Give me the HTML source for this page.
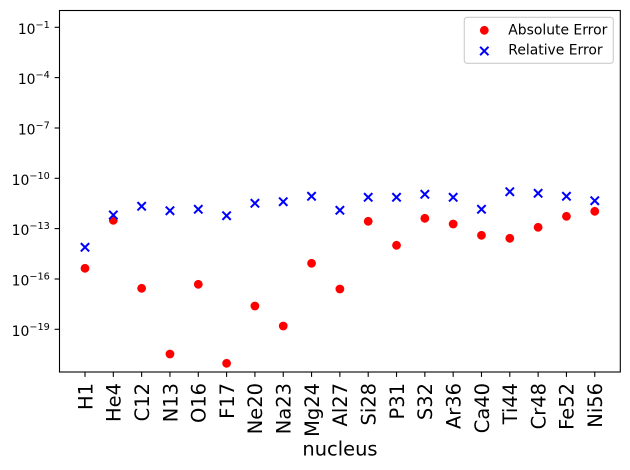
<!DOCTYPE html>
<html><head><meta charset="utf-8"><style>
html,body{margin:0;padding:0;background:#fff;}
svg{display:block;font-family:"DejaVu Sans","Liberation Sans",sans-serif;}
</style></head><body>
<svg width="630" height="470" viewBox="0 0 630 470" xmlns="http://www.w3.org/2000/svg">
<rect width="630" height="470" fill="#fff"/>
<!-- y ticks -->
<g stroke="#000" stroke-width="1.1">
<line x1="54.6" y1="27.3" x2="59.5" y2="27.3"/>
<line x1="54.6" y1="77.6" x2="59.5" y2="77.6"/>
<line x1="54.6" y1="128" x2="59.5" y2="128"/>
<line x1="54.6" y1="178.3" x2="59.5" y2="178.3"/>
<line x1="54.6" y1="228.6" x2="59.5" y2="228.6"/>
<line x1="54.6" y1="279" x2="59.5" y2="279"/>
<line x1="54.6" y1="329.3" x2="59.5" y2="329.3"/>
</g>
<g font-size="13.9" fill="#000" text-anchor="end">
<text x="49.8" y="33.8">10<tspan font-size="9.7" dy="-6">−1</tspan></text>
<text x="49.8" y="84.1">10<tspan font-size="9.7" dy="-6">−4</tspan></text>
<text x="49.8" y="134.5">10<tspan font-size="9.7" dy="-6">−7</tspan></text>
<text x="49.8" y="184.8">10<tspan font-size="9.7" dy="-6">−10</tspan></text>
<text x="49.8" y="235.1">10<tspan font-size="9.7" dy="-6">−13</tspan></text>
<text x="49.8" y="285.5">10<tspan font-size="9.7" dy="-6">−16</tspan></text>
<text x="49.8" y="335.8">10<tspan font-size="9.7" dy="-6">−19</tspan></text>
</g>
<!-- x ticks -->
<g stroke="#000" stroke-width="1.1">
<line x1="85" y1="372" x2="85" y2="376.9"/>
<line x1="113.32" y1="372" x2="113.32" y2="376.9"/>
<line x1="141.64" y1="372" x2="141.64" y2="376.9"/>
<line x1="169.96" y1="372" x2="169.96" y2="376.9"/>
<line x1="198.28" y1="372" x2="198.28" y2="376.9"/>
<line x1="226.6" y1="372" x2="226.6" y2="376.9"/>
<line x1="254.92" y1="372" x2="254.92" y2="376.9"/>
<line x1="283.24" y1="372" x2="283.24" y2="376.9"/>
<line x1="311.56" y1="372" x2="311.56" y2="376.9"/>
<line x1="339.88" y1="372" x2="339.88" y2="376.9"/>
<line x1="368.2" y1="372" x2="368.2" y2="376.9"/>
<line x1="396.52" y1="372" x2="396.52" y2="376.9"/>
<line x1="424.84" y1="372" x2="424.84" y2="376.9"/>
<line x1="453.16" y1="372" x2="453.16" y2="376.9"/>
<line x1="481.48" y1="372" x2="481.48" y2="376.9"/>
<line x1="509.8" y1="372" x2="509.8" y2="376.9"/>
<line x1="538.12" y1="372" x2="538.12" y2="376.9"/>
<line x1="566.44" y1="372" x2="566.44" y2="376.9"/>
<line x1="594.76" y1="372" x2="594.76" y2="376.9"/>
</g>
<g font-size="19.44" fill="#000" text-anchor="end">
<text transform="translate(92.3,383) rotate(-90)">H1</text>
<text transform="translate(120.62,383) rotate(-90)">He4</text>
<text transform="translate(148.94,383) rotate(-90)">C12</text>
<text transform="translate(177.26,383) rotate(-90)">N13</text>
<text transform="translate(205.58,383) rotate(-90)">O16</text>
<text transform="translate(233.9,383) rotate(-90)">F17</text>
<text transform="translate(262.22,383) rotate(-90)">Ne20</text>
<text transform="translate(290.54,383) rotate(-90)">Na23</text>
<text transform="translate(318.86,383) rotate(-90)">Mg24</text>
<text transform="translate(347.18,383) rotate(-90)">Al27</text>
<text transform="translate(375.5,383) rotate(-90)">Si28</text>
<text transform="translate(403.82,383) rotate(-90)">P31</text>
<text transform="translate(432.14,383) rotate(-90)">S32</text>
<text transform="translate(460.46,383) rotate(-90)">Ar36</text>
<text transform="translate(488.78,383) rotate(-90)">Ca40</text>
<text transform="translate(517.1,383) rotate(-90)">Ti44</text>
<text transform="translate(545.42,383) rotate(-90)">Cr48</text>
<text transform="translate(573.74,383) rotate(-90)">Fe52</text>
<text transform="translate(602.06,383) rotate(-90)">Ni56</text>
</g>
<text x="340" y="455.5" font-size="19.44" text-anchor="middle" fill="#000">nucleus</text>
<!-- Absolute Error dots -->
<g fill="#ff0000">
<circle cx="85" cy="268.3" r="4.4"/>
<circle cx="113.32" cy="220.3" r="4.4"/>
<circle cx="141.64" cy="288.3" r="4.4"/>
<circle cx="169.96" cy="354" r="4.4"/>
<circle cx="198.28" cy="284.3" r="4.4"/>
<circle cx="226.6" cy="363.3" r="4.4"/>
<circle cx="254.92" cy="306" r="4.4"/>
<circle cx="283.24" cy="326" r="4.4"/>
<circle cx="311.56" cy="263.3" r="4.4"/>
<circle cx="339.88" cy="289" r="4.4"/>
<circle cx="368.2" cy="221.3" r="4.4"/>
<circle cx="396.52" cy="245.3" r="4.4"/>
<circle cx="424.84" cy="218.3" r="4.4"/>
<circle cx="453.16" cy="224" r="4.4"/>
<circle cx="481.48" cy="235.3" r="4.4"/>
<circle cx="509.8" cy="238.3" r="4.4"/>
<circle cx="538.12" cy="227.3" r="4.4"/>
<circle cx="566.44" cy="216.3" r="4.4"/>
<circle cx="594.76" cy="211.3" r="4.4"/>
</g>
<!-- Relative Error x markers -->
<g stroke="#0000ff" stroke-width="2" fill="none">
<path d="M80.83,243.13l8.34,8.34M80.83,251.47l8.34,-8.34"/>
<path d="M109.15,210.83l8.34,8.34M109.15,219.17l8.34,-8.34"/>
<path d="M137.47,202.13l8.34,8.34M137.47,210.47l8.34,-8.34"/>
<path d="M165.79,206.53l8.34,8.34M165.79,214.87l8.34,-8.34"/>
<path d="M194.11,205.13l8.34,8.34M194.11,213.47l8.34,-8.34"/>
<path d="M222.43,211.53l8.34,8.34M222.43,219.87l8.34,-8.34"/>
<path d="M250.75,199.13l8.34,8.34M250.75,207.47l8.34,-8.34"/>
<path d="M279.07,197.53l8.34,8.34M279.07,205.87l8.34,-8.34"/>
<path d="M307.39,192.13l8.34,8.34M307.39,200.47l8.34,-8.34"/>
<path d="M335.71,206.13l8.34,8.34M335.71,214.47l8.34,-8.34"/>
<path d="M364.03,193.13l8.34,8.34M364.03,201.47l8.34,-8.34"/>
<path d="M392.35,193.13l8.34,8.34M392.35,201.47l8.34,-8.34"/>
<path d="M420.67,190.13l8.34,8.34M420.67,198.47l8.34,-8.34"/>
<path d="M448.99,193.13l8.34,8.34M448.99,201.47l8.34,-8.34"/>
<path d="M477.31,205.13l8.34,8.34M477.31,213.47l8.34,-8.34"/>
<path d="M505.63,187.53l8.34,8.34M505.63,195.87l8.34,-8.34"/>
<path d="M533.95,189.13l8.34,8.34M533.95,197.47l8.34,-8.34"/>
<path d="M562.27,192.13l8.34,8.34M562.27,200.47l8.34,-8.34"/>
<path d="M590.59,196.53l8.34,8.34M590.59,204.87l8.34,-8.34"/>
</g>
<!-- axes frame -->
<rect x="59.5" y="10.5" width="560.8" height="361.5" fill="none" stroke="#000" stroke-width="1.1"/>
<!-- legend -->
<rect x="464.3" y="17.3" width="149" height="46" rx="2.8" ry="2.8" fill="#fff" fill-opacity="0.8" stroke="#cccccc" stroke-width="1.1"/>
<circle cx="484.3" cy="30.3" r="4.4" fill="#ff0000"/>
<path d="M480.13,46.83l8.34,8.34M480.13,55.17l8.34,-8.34" stroke="#0000ff" stroke-width="2" fill="none"/>
<text x="508.3" y="34.6" font-size="13.9" fill="#000">Absolute Error</text>
<text x="508.3" y="54.6" font-size="13.9" fill="#000">Relative Error</text>
</svg>
</body></html>
